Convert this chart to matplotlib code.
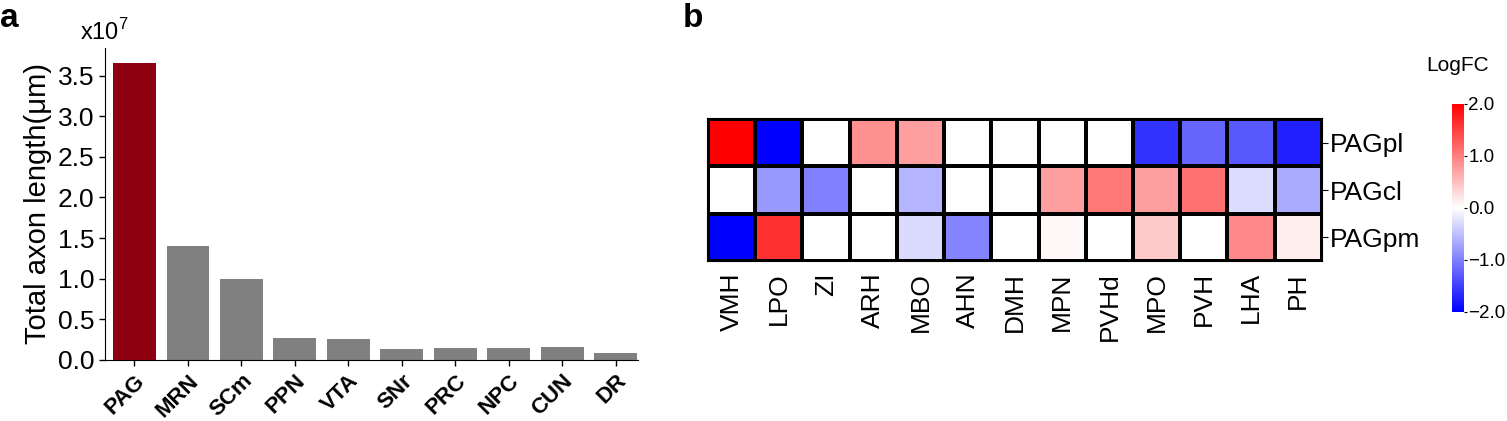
import numpy as np
import matplotlib
matplotlib.use("Agg")
import matplotlib.pyplot as plt

plt.rcParams['font.family'] = ['Liberation Sans', 'DejaVu Sans']
plt.rcParams['mathtext.fontset'] = 'custom'
plt.rcParams['mathtext.rm'] = 'Liberation Sans'

# panel a data
regions = ['PAG', 'MRN', 'SCm', 'PPN', 'VTA', 'SNr', 'PRC', 'NPC', 'CUN', 'DR']
axon_len = [3.66, 1.40, 1.00, 0.27, 0.255, 0.13, 0.15, 0.15, 0.16, 0.085]  # x10^7 um
bar_colors = ['#8e0010'] + ['#808080'] * 9

# panel b data
targets = ['VMH', 'LPO', 'ZI', 'ARH', 'MBO', 'AHN', 'DMH', 'MPN', 'PVHd', 'MPO', 'PVH', 'LHA', 'PH']
pag_rows = ['PAGpl', 'PAGcl', 'PAGpm']
logfc_pl = [2.0, -2.0, 0, 0.87, 0.75, 0, 0, 0, 0, -1.6, -1.2, -1.3, -1.75]
logfc_cl = [0, -0.8, -1.0, 0, -0.58, 0, 0, 0.75, 1.06, 0.75, 1.12, -0.27, -0.67]
logfc_pm = [-2.0, 1.62, 0, 0, -0.29, -0.96, 0, 0.05, 0, 0.42, 0, 0.93, 0.13]

fig = plt.figure(figsize=(15.07, 4.21), dpi=100)

# ---- a: bar chart
ax = fig.add_axes([0.0697, 0.145, 0.3537, 0.741])
x = np.arange(len(regions))
ax.bar(x, axon_len, width=0.8, color=bar_colors)
ax.set_xlim(-0.55, 9.42)
ax.set_ylim(0, 3.84)
ax.set_yticks(np.arange(0, 3.6, 0.5))
ax.set_yticklabels(['%.1f' % v for v in np.arange(0, 3.6, 0.5)], fontsize=19)
ax.set_xticks(x)
ax.set_xticklabels(regions, rotation=45, ha='right', rotation_mode='anchor',
                   fontsize=16, fontweight='bold')
ax.set_ylabel('Total axon length(μm)', fontsize=21, labelpad=4)
ax.spines['top'].set_visible(False)
ax.spines['right'].set_visible(False)
ax.tick_params(length=4, width=1)
fig.text(0.053, 0.925, 'x10$^7$', fontsize=17, va='center')
fig.text(0.0, 0.955, 'a', fontsize=24, fontweight='bold', va='center')

# ---- b: heatmap
hx = fig.add_axes([0.4698, 0.380, 0.4074, 0.337])
data = np.array([logfc_pl, logfc_cl, logfc_pm])
mesh = hx.pcolormesh(data, cmap='bwr', vmin=-2, vmax=2, edgecolors='k', linewidth=1.5)
hx.set_xlim(0, len(targets))
hx.set_ylim(len(pag_rows), 0)
hx.set_xticks(np.arange(len(targets)) + 0.5)
hx.set_xticklabels(targets, rotation=90, fontsize=19)
hx.set_yticks(np.arange(len(pag_rows)) + 0.5)
hx.set_yticklabels(pag_rows, fontsize=19)
hx.yaxis.tick_right()
hx.tick_params(axis='x', length=0, pad=8)
hx.tick_params(axis='y', length=4, pad=2)
for s in hx.spines.values():
    s.set_linewidth(1.5)
fig.text(0.453, 0.955, 'b', fontsize=24, fontweight='bold', va='center')

cax = fig.add_axes([0.9635, 0.259, 0.008, 0.494])
cb = fig.colorbar(mesh, cax=cax, ticks=[-2, -1, 0, 1, 2])
cb.set_ticklabels(['\u22122.0', '\u22121.0', '0.0', '1.0', '2.0'])
cb.outline.set_visible(False)
cax.tick_params(labelsize=13.5, length=2, pad=1)
fig.text(0.967, 0.845, 'LogFC', fontsize=15, ha='center', va='center')

fig.savefig('out.png', dpi=100)
